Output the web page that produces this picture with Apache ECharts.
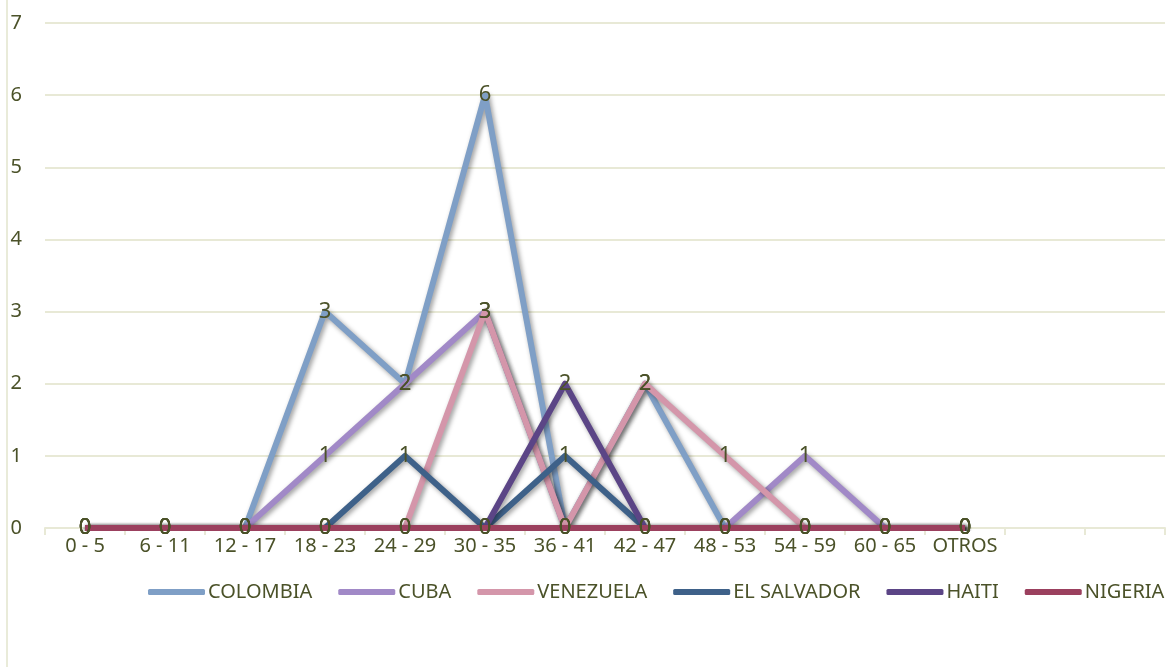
<!DOCTYPE html>
<html>
<head>
<meta charset="utf-8">
<script src="https://cdn.jsdelivr.net/npm/echarts@6/dist/echarts.min.js"></script>
<style>
  html, body { margin: 0; padding: 0; background: #fff; }
  #chart { width: 1172px; height: 667px; }
  .edge { position: absolute; left: 6px; top: 0; width: 2px; height: 667px; background: #e9ebd9; }
</style>
</head>
<body>
<div class="edge"></div>
<div id="chart"></div>
<script>
// rangos de edad (los dos ultimos vacios como en la hoja original)
const categories = ['0 - 5', '6 - 11', '12 - 17', '18 - 23', '24 - 29', '30 - 35', '36 - 41', '42 - 47', '48 - 53', '54 - 59', '60 - 65', 'OTROS', '', ''];

const colombia   = [0, 0, 0, 3, 2, 6, 0, 2, 0, 0, 0, 0];
const cuba       = [0, 0, 0, 1, 2, 3, 0, 0, 0, 1, 0, 0];
const venezuela  = [0, 0, 0, 0, 0, 3, 0, 2, 1, 0, 0, 0];
const elSalvador = [0, 0, 0, 0, 1, 0, 1, 0, 0, 0, 0, 0];
const haiti      = [0, 0, 0, 0, 0, 0, 2, 0, 0, 0, 0, 0];
const nigeria    = [0, 0, 0, 0, 0, 0, 0, 0, 0, 0, 0, 0];

const seriesNames = ['COLOMBIA', 'CUBA', 'VENEZUELA', 'EL SALVADOR', 'HAITI', 'NIGERIA'];
const seriesData = [colombia, cuba, venezuela, elSalvador, haiti, nigeria];
const colors = ['#7f9fc6', '#a189c7', '#d496aa', '#3e6189', '#5b4586', '#9b405e'];

const textColor = '#4b5229';
const gridColor = '#e8e9d6';

const chart = echarts.init(document.getElementById('chart'));

const option = {
  animation: false,
  color: colors,
  textStyle: { fontFamily: 'Noto Sans' },
  grid: { left: 45, right: 7, top: 23, bottom: 139 },
  legend: {
    left: 148,
    top: 582,
    padding: 0,
    width: 1024,
    itemWidth: 57,
    itemHeight: 6,
    itemGap: 26,
    icon: 'roundRect',
    data: seriesNames,
    textStyle: { color: textColor, fontSize: 20, fontFamily: 'Noto Sans', padding: [0, 0, 0, -2] }
  },
  xAxis: {
    type: 'category',
    data: categories,
    boundaryGap: true,
    axisLine: { lineStyle: { color: gridColor, width: 2 } },
    axisTick: { show: true, length: 7, lineStyle: { color: gridColor, width: 2 } },
    axisLabel: { color: textColor, fontSize: 20, margin: 8, interval: 0 }
  },
  yAxis: {
    type: 'value',
    min: 0,
    max: 7,
    interval: 1,
    axisLine: { show: false },
    axisTick: { show: false },
    axisLabel: { color: textColor, fontSize: 20, margin: 23 },
    splitLine: { lineStyle: { color: gridColor, width: 2 } }
  },
  series: seriesNames.map((name, i) => ({
    name: name,
    type: 'line',
    data: seriesData[i],
    symbol: 'circle',
    symbolSize: 0,
    lineStyle: {
      width: 6,
      color: colors[i],
      join: 'round',
      shadowColor: 'rgba(0,0,0,0.4)',
      shadowBlur: 5,
      shadowOffsetX: 2,
      shadowOffsetY: 2
    },
    itemStyle: { color: colors[i] },
    label: {
      show: true,
      position: 'inside',
      color: textColor,
      fontSize: 22,
      fontFamily: 'Noto Sans'
    }
  }))
};

chart.setOption(option);
</script>
</body>
</html>
